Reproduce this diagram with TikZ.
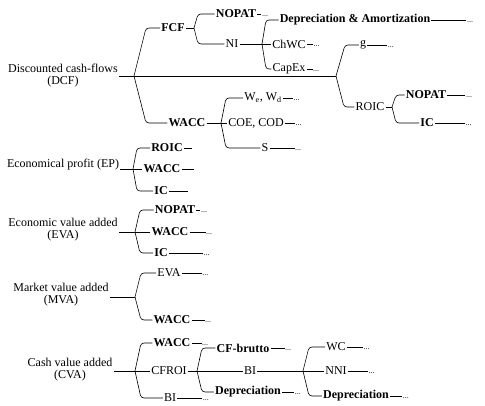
\documentclass[tikz,border=0pt]{standalone}
\usepackage{fontspec}
\setmainfont{Liberation Serif}
\usetikzlibrary{positioning,calc}
\tikzstyle{item} = [inner sep=1pt, font=\fontsize{12}{12}\selectfont]
\tikzstyle{bitem} = [inner sep=1pt, font=\fontsize{12}{12}\selectfont\bfseries]
\tikzstyle{root} = [item, align=center]
\tikzstyle{dots} = [inner sep=0.5pt, text height=5pt, text depth=0pt, font=\footnotesize]
\tikzstyle{tline} = [draw, line width=0.6pt]
\tikzstyle{brace} = [tline, rounded corners=3pt]

\begin{document}
\begin{tikzpicture}[x=1pt, y=-1pt]
\useasboundingbox (0,0) rectangle (485,406);

% discounted cash-flows =============================

\node[root] (dcf) at (63,76) {Discounted cash-flows\\(DCF)};
\coordinate (jdcf) at (134,76);
\coordinate (jg) at (336,76);
\node[bitem] (fcf) at (173,28) {FCF};
\coordinate (jfcf) at (194,28);
\node[bitem] (nopat1) at (236,14) {NOPAT};
\node[item] (ni) at (232,44) {NI};
\coordinate (jni) at (262,44);
\node[bitem] (depam) at (355,20) {Depreciation \& Amortization};
\node[item] (chwc) at (289,44) {ChWC};
\node[item] (capex) at (289,69) {CapEx};
\node[item] (g) at (363,45) {g};
\node[item] (roic1) at (370,107) {ROIC};
\coordinate (jroic) at (392,107);
\node[bitem] (nopat2) at (426,95) {NOPAT};
\node[bitem] (ic1) at (427,123) {IC};
\node[bitem] (wacc1) at (187,123) {WACC};
\coordinate (jw) at (221,123);
\node[item] (wewd) at (263,98) {W\textsubscript{e}, W\textsubscript{d}};
\node[item] (coecod) at (256,123) {COE, COD};
\node[item] (s1) at (265,148) {S};

\node[dots, right=4pt of nopat1] (d1) {...};
\node[dots, right=35pt of depam] (d2) {...};
\node[dots, right=6pt of chwc] (d3) {...};
\node[dots, right=6pt of capex] (d4) {...};
\node[dots, right=20pt of g] (d5) {...};
\node[dots, right=18pt of nopat2] (d6) {...};
\node[dots, right=30pt of ic1] (d7) {...};
\node[dots, right=10pt of wewd] (d8) {...};
\node[dots, right=10pt of coecod] (d9) {...};
\node[dots, right=25pt of s1] (d10) {...};

\path[tline] (dcf.east |- jdcf) -- (jdcf);
\path[brace] (jdcf) -- ($(jdcf |- fcf)+(12pt,0)$) -- (fcf);
\path[tline] (jdcf) -- (jg);
\path[brace] (jdcf) -- ($(jdcf |- wacc1)+(12pt,0)$) -- (wacc1);

\path[tline] (fcf) -- (jfcf);
\path[brace] (jfcf) -- ($(jfcf |- nopat1)+(4pt,0)$) -- (nopat1);
\path[brace] (jfcf) -- ($(jfcf |- ni)+(4pt,0)$) -- (ni);
\path[tline] (ni) -- (jni);
\path[brace] (jni) -- ($(jni |- depam)+(4pt,0)$) -- (depam);
\path[tline] (jni) -- (chwc);
\path[brace] (jni) -- ($(jni |- capex)+(4pt,0)$) -- (capex);

\path[brace] (jg) -- ($(jg |- g)+(9pt,0)$) -- (g);
\path[brace] (jg) -- ($(jg |- roic1)+(8pt,0)$) -- (roic1);
\path[tline] (roic1) -- (jroic);
\path[brace] (jroic) -- ($(jroic |- nopat2)+(4pt,0)$) -- (nopat2);
\path[brace] (jroic) -- ($(jroic |- ic1)+(4pt,0)$) -- (ic1);

\path[tline] (wacc1) -- (jw);
\path[brace] (jw) -- ($(jw |- wewd)+(5pt,0)$) -- (wewd);
\path[tline] (jw) -- (coecod);
\path[brace] (jw) -- ($(jw |- s1)+(5pt,0)$) -- (s1);

\path[tline] (nopat1) -- (d1);
\path[tline] (depam) -- (d2);
\path[tline] (chwc) -- (d3);
\path[tline] (capex) -- (d4);
\path[tline] (g) -- (d5);
\path[tline] (nopat2) -- (d6);
\path[tline] (ic1) -- (d7);
\path[tline] (wewd) -- (d8);
\path[tline] (coecod) -- (d9);
\path[tline] (s1) -- (d10);

% economical profit =============================

\node[item] (ep) at (63,165) {Economical profit (EP)};
\coordinate (jep) at (133,169);
\node[bitem] (roic2) at (167,148) {ROIC};
\node[bitem] (wacc2) at (162,169) {WACC};
\node[bitem] (ic2) at (161,191) {IC};
\coordinate[right=8pt of roic2] (e1);
\coordinate[right=12pt of wacc2] (e2);
\coordinate[right=19pt of ic2] (e3);

\path[tline] (ep.east |- jep) -- (jep);
\path[brace] (jep) -- ($(jep |- roic2)+(4pt,0)$) -- (roic2);
\path[tline] (jep) -- (wacc2);
\path[brace] (jep) -- ($(jep |- ic2)+(4pt,0)$) -- (ic2);
\path[tline] (roic2) -- (e1);
\path[tline] (wacc2) -- (e2);
\path[tline] (ic2) -- (e3);

% economic value added =============================

\node[root] (eva) at (63,230) {Economic value added\\(EVA)};
\coordinate (jeva) at (135,232);
\node[bitem] (nopat3) at (175,210) {NOPAT};
\node[bitem] (wacc3) at (170,232) {WACC};
\node[bitem] (ic3) at (161,253) {IC};
\node[dots, right=4pt of nopat3] (d11) {...};
\node[dots, right=16pt of wacc3] (d12) {...};
\node[dots, right=34pt of ic3] (d13) {...};

\path[tline] (eva.east |- jeva) -- (jeva);
\path[brace] (jeva) -- ($(jeva |- nopat3)+(5pt,0)$) -- (nopat3);
\path[tline] (jeva) -- (wacc3);
\path[brace] (jeva) -- ($(jeva |- ic3)+(5pt,0)$) -- (ic3);
\path[tline] (nopat3) -- (d11);
\path[tline] (wacc3) -- (d12);
\path[tline] (ic3) -- (d13);

% market value added =============================

\node[root] (mva) at (61,295) {Market value added\\(MVA)};
\coordinate (jmva) at (135,297);
\node[item] (eva2) at (169,273) {EVA};
\node[bitem] (wacc4) at (172,320) {WACC};
\node[dots, right=20pt of eva2] (d14) {...};
\node[dots, right=13pt of wacc4] (d15) {...};

\path[tline] (mva.east |- jmva) -- (jmva);
\path[brace] (jmva) -- ($(jmva |- eva2)+(6pt,0)$) -- (eva2);
\path[brace] (jmva) -- ($(jmva |- wacc4)+(6pt,0)$) -- (wacc4);
\path[tline] (eva2) -- (d14);
\path[tline] (wacc4) -- (d15);

% cash value added =============================

\node[root] (cva) at (70,370) {Cash value added\\(CVA)};
\coordinate (jcva) at (135,371);
\node[bitem] (wacc5) at (172,343) {WACC};
\node[item] (cfroi) at (169,371) {CFROI};
\coordinate (jcf) at (197,371);
\node[item] (bi1) at (170,398) {BI};
\node[bitem] (cfbrutto) at (243,348) {CF-brutto};
\node[item] (bi2) at (250,371) {BI};
\coordinate (jbi) at (303,371);
\node[bitem] (dep1) at (248,392) {Depreciation};
\node[item] (wc) at (336,347) {WC};
\node[item] (nni) at (336,371) {NNI};
\node[bitem] (dep2) at (356,396) {Depreciation};
\node[dots, right=10pt of wacc5] (d16) {...};
\node[dots, right=25pt of bi1] (d17) {...};
\node[dots, right=14pt of cfbrutto] (d18) {...};
\node[dots, right=12pt of dep1] (d19) {...};
\node[dots, right=16pt of wc] (d20) {...};
\node[dots, right=20pt of nni] (d21) {...};
\node[dots, right=12pt of dep2] (d22) {...};

\path[tline] (cva.east |- jcva) -- (jcva);
\path[brace] (jcva) -- ($(jcva |- wacc5)+(6pt,0)$) -- (wacc5);
\path[tline] (jcva) -- (cfroi);
\path[brace] (jcva) -- ($(jcva |- bi1)+(6pt,0)$) -- (bi1);
\path[tline] (cfroi) -- (jcf);
\path[brace] (jcf) -- ($(jcf |- cfbrutto)+(5pt,0)$) -- (cfbrutto);
\path[tline] (jcf) -- (bi2);
\path[brace] (jcf) -- ($(jcf |- dep1)+(5pt,0)$) -- (dep1);
\path[tline] (bi2) -- (jbi);
\path[brace] (jbi) -- ($(jbi |- wc)+(6pt,0)$) -- (wc);
\path[tline] (jbi) -- (nni);
\path[brace] (jbi) -- ($(jbi |- dep2)+(6pt,0)$) -- (dep2);

\path[tline] (wacc5) -- (d16);
\path[tline] (bi1) -- (d17);
\path[tline] (cfbrutto) -- (d18);
\path[tline] (dep1) -- (d19);
\path[tline] (wc) -- (d20);
\path[tline] (nni) -- (d21);
\path[tline] (dep2) -- (d22);

\end{tikzpicture}
\end{document}
